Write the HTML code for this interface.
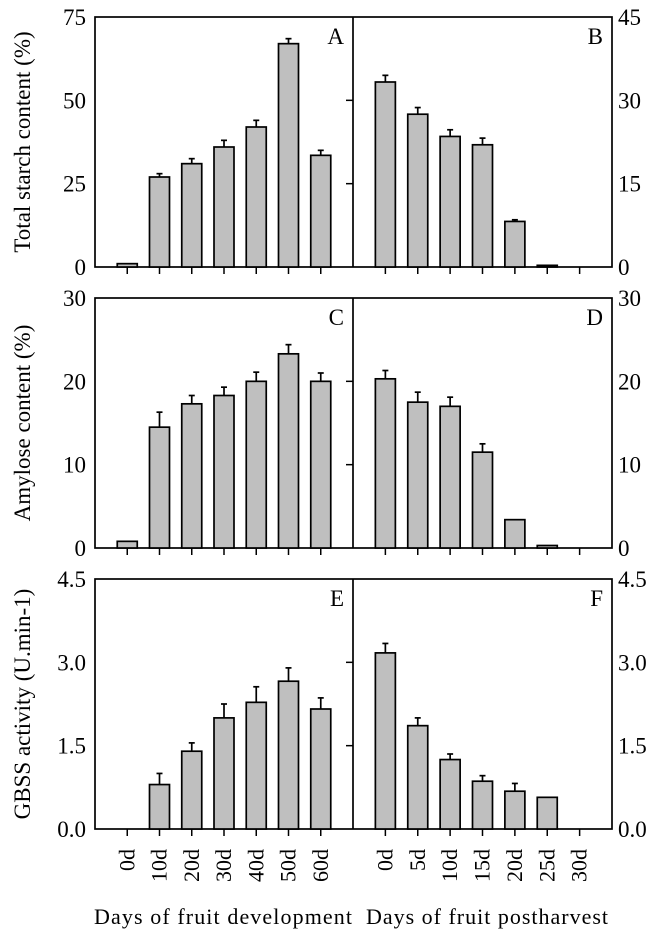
<!DOCTYPE html>
<html><head><meta charset="utf-8"><style>
html,body{margin:0;padding:0;background:#fff;}
svg{display:block;font-family:"Liberation Serif",serif;}
</style></head><body>
<svg id="chart" width="660" height="940" viewBox="0 0 660 940" xmlns="http://www.w3.org/2000/svg"></svg>
<script>
const devCategories = ["0d","10d","20d","30d","40d","50d","60d"];
const postCategories = ["0d","5d","10d","15d","20d","25d","30d"];
const valuesA = [1, 27, 31, 36, 42, 67, 33.5];
const errorsA = [0, 1, 1.5, 2, 2, 1.5, 1.5];
const valuesB = [33.3, 27.5, 23.5, 22, 8.2, 0.3, 0];
const errorsB = [1.2, 1.2, 1.2, 1.2, 0.3, 0, 0];
const valuesC = [0.8, 14.5, 17.3, 18.3, 20, 23.3, 20];
const errorsC = [0, 1.8, 1, 1, 1.1, 1.1, 1];
const valuesD = [20.3, 17.5, 17, 11.5, 3.4, 0.3, 0];
const errorsD = [1, 1.2, 1.1, 1, 0, 0, 0];
const valuesE = [0, 0.8, 1.4, 2.0, 2.28, 2.66, 2.16];
const errorsE = [0, 0.2, 0.15, 0.25, 0.28, 0.24, 0.2];
const valuesF = [3.17, 1.86, 1.25, 0.86, 0.68, 0.57, 0];
const errorsF = [0.17, 0.14, 0.1, 0.1, 0.14, 0, 0];
const ticksLeft1 = ["0","25","50","75"];
const ticksRight1 = ["0","15","30","45"];
const ticks2 = ["0","10","20","30"];
const ticks3 = ["0.0","1.5","3.0","4.5"];
const yTitles = ["Total starch content (%)","Amylose content (%)","GBSS activity (U.min-1)"];

const svg = document.getElementById('chart');
const NS = "http://www.w3.org/2000/svg";
function mk(tag, attrs, parent){const e=document.createElementNS(NS,tag);for(const k in attrs)e.setAttribute(k,attrs[k]);(parent||svg).appendChild(e);return e;}

const L=95, M=353, R=612, H=250;
const tops=[17,298,579];
const rows=[
 {lv:valuesA,le:errorsA,lmax:75,rv:valuesB,re:errorsB,rmax:45,lt:ticksLeft1,rt:ticksRight1,ln:"A",rn:"B"},
 {lv:valuesC,le:errorsC,lmax:30,rv:valuesD,re:errorsD,rmax:30,lt:ticks2,rt:ticks2,ln:"C",rn:"D"},
 {lv:valuesE,le:errorsE,lmax:4.5,rv:valuesF,re:errorsF,rmax:4.5,lt:ticks3,rt:ticks3,ln:"E",rn:"F"}
];

function drawBars(g, x0, w, top, vals, errs, max, name){
  const bottom = top+H;
  const y = v => bottom - v/max*H;
  const slot = w/8;
  vals.forEach((v,i)=>{
    const cx = x0 + slot*(i+1);
    if(v>0){
      const r = mk('rect',{x:cx-10,y:y(v),width:20,height:bottom-y(v),fill:'#bfbfbf',stroke:'#000','stroke-width':1.7},g);
      
      
      if(errs[i]>0){
        mk('line',{x1:cx,x2:cx,y1:y(v),y2:y(v+errs[i]),stroke:'#000','stroke-width':1.7},g);
        mk('line',{x1:cx-3,x2:cx+3,y1:y(v+errs[i]),y2:y(v+errs[i]),stroke:'#000','stroke-width':1.7},g);
      }
    }
    mk('line',{x1:cx,x2:cx,y1:bottom,y2:bottom+7,stroke:'#000','stroke-width':1.5},g);
  });
}

rows.forEach((r,ri)=>{
  const top=tops[ri], bottom=top+H;
  const g = mk('g',{});
  
  
  mk('rect',{x:L,y:top,width:R-L,height:H,fill:'none',stroke:'#000','stroke-width':1.7},g);
  mk('line',{x1:M,x2:M,y1:top,y2:bottom,stroke:'#000','stroke-width':1.7},g);
  drawBars(g,L,M-L,top,r.lv,r.le,r.lmax,'panel-'+r.ln.toLowerCase());
  drawBars(g,M,R-M,top,r.rv,r.re,r.rmax,'panel-'+r.rn.toLowerCase());
  r.lt.forEach((t,i)=>{
    const yy = bottom - i/(r.lt.length-1)*H;
    const tx = mk('text',{x:86,y:yy+8,'text-anchor':'end','font-size':23},g); tx.textContent=t;
    
    
    if(i>0 && i<r.lt.length-1) mk('line',{x1:M-7,x2:M,y1:yy,y2:yy,stroke:'#000','stroke-width':1.5},g);
  });
  r.rt.forEach((t,i)=>{
    const yy = bottom - i/(r.rt.length-1)*H;
    const tx = mk('text',{x:618,y:yy+8,'text-anchor':'start','font-size':23},g); tx.textContent=t;
    
    
  });
  const a = mk('text',{x:344,y:top+27,'text-anchor':'end','font-size':23},g); a.textContent=r.ln;
  
  
  const b = mk('text',{x:603,y:top+27,'text-anchor':'end','font-size':23},g); b.textContent=r.rn;
  
  
  const yt = mk('text',{x:0,y:0,'text-anchor':'middle','font-size':23,transform:`translate(30,${top+H/2}) rotate(-90)`},g);
  yt.textContent = yTitles[ri];
  
  
});

function xLabels(cats, x0, w){
  cats.forEach((c,i)=>{
    const cx = x0 + w/8*(i+1);
    const t = mk('text',{x:0,y:0,'text-anchor':'end','font-size':22,transform:`translate(${cx+7},849) rotate(-90)`});
    t.textContent=c;
    
    
  });
}
xLabels(devCategories,L,M-L);
xLabels(postCategories,M,R-M);
const x1 = mk('text',{x:223,y:924,'text-anchor':'middle','font-size':22,textLength:258}); x1.textContent='Days of fruit development';


const x2 = mk('text',{x:487,y:924,'text-anchor':'middle','font-size':22,textLength:242}); x2.textContent='Days of fruit postharvest';


</script>
</body></html>
